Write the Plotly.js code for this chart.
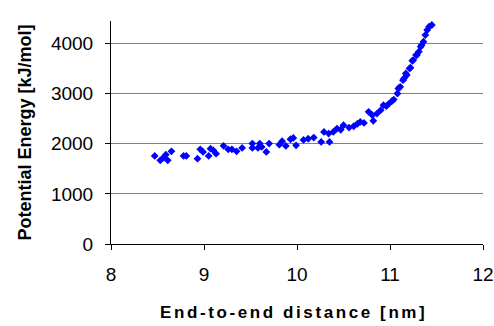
<!DOCTYPE html>
<html>
<head>
<meta charset="utf-8">
<script src="https://cdn.plot.ly/plotly-3.0.1.min.js"></script>
<style>
html,body{margin:0;padding:0;background:#fff;}
#chart{width:494px;height:326px;}
.annotation-text{letter-spacing:2.6px;}
</style>
</head>
<body>
<div id="chart"></div>
<script>
var distance = [8.47,8.53,8.56,8.59,8.61,8.65,8.78,8.81,8.93,8.96,8.99,9.05,9.07,9.10,9.13,9.21,9.26,9.30,9.35,9.41,
  9.52,9.52,9.58,9.60,9.62,9.67,9.70,9.81,9.84,9.88,9.93,9.96,9.99,10.07,10.12,10.18,10.26,10.29,10.34,10.35,
  10.39,10.43,10.47,10.50,10.56,10.61,10.65,10.68,10.72,10.77,10.81,10.82,10.86,10.90,10.93,10.96,10.99,11.02,11.04,11.08,
  11.09,11.11,11.14,11.15,11.17,11.18,11.21,11.22,11.24,11.25,11.28,11.29,11.31,11.33,11.34,11.36,11.38,11.40,11.42,11.45];
var energy = [1757,1670,1717,1783,1670,1850,1757,1757,1703,1890,1837,1757,1903,1870,1803,1960,1890,1890,1850,1917,
  2003,1917,1917,2003,1937,1837,2003,1983,2050,1957,2090,2117,1970,2077,2100,2123,2037,2237,2203,2037,
  2237,2303,2280,2370,2323,2350,2400,2437,2417,2637,2570,2457,2603,2670,2770,2750,2803,2850,2883,3003,
  3103,3137,3270,3303,3403,3370,3503,3517,3657,3670,3770,3770,3837,3937,3970,4037,4170,4270,4337,4370];
var xTitle = 'End-to-end distance [nm]';
var yTitle = 'Potential Energy [kJ/mol]';

var trace = {
  x: distance, y: energy, type: 'scatter', mode: 'markers',
  marker: {symbol: 'diamond', size: 6, color: '#0000ff', line: {width: 0}},
  showlegend: false, hoverinfo: 'x+y'
};

var font = {family: '"Liberation Sans", Arial, sans-serif', color: '#000'};

var layout = {
  width: 494, height: 326,
  margin: {l: 111, r: 11, t: 21, b: 82},
  paper_bgcolor: '#fff', plot_bgcolor: '#fff',
  font: font,
  xaxis: {
    range: [8, 12], tickvals: [8, 9, 10, 11, 12], ticktext: ['8','9','10','11','12'],
    showgrid: false, zeroline: false,
    showline: true, linecolor: '#000', linewidth: 1,
    ticks: 'outside', ticklen: 5, tickcolor: '#000', tickwidth: 1,
    tickfont: {family: font.family, size: 19, color: '#000'},
    ticklabelstandoff: 8,
    automargin: false, fixedrange: true
  },
  yaxis: {
    range: [0, 4450], tickvals: [0, 1000, 2000, 3000, 4000], ticktext: ['0','1000','2000','3000','4000'],
    showgrid: true, gridcolor: '#808080', gridwidth: 1, zeroline: false,
    showline: true, linecolor: '#000', linewidth: 1,
    ticks: 'outside', ticklen: 5, tickcolor: '#000', tickwidth: 1,
    tickfont: {family: font.family, size: 19, color: '#000'},
    ticklabelstandoff: 8,
    title: {text: yTitle, standoff: 14,
            font: {family: font.family, size: 18, color: '#000', weight: 'bold'}},
    automargin: 'left', fixedrange: true
  },
  annotations: [{
    text: xTitle, xref: 'paper', yref: 'paper', x: 0.49, y: -0.305,
    xanchor: 'center', yanchor: 'middle', showarrow: false,
    font: {family: font.family, size: 17, color: '#000', weight: 'bold'}
  }]
};

Plotly.newPlot('chart', [trace], layout, {displayModeBar: false, staticPlot: true});
</script>
</body>
</html>
